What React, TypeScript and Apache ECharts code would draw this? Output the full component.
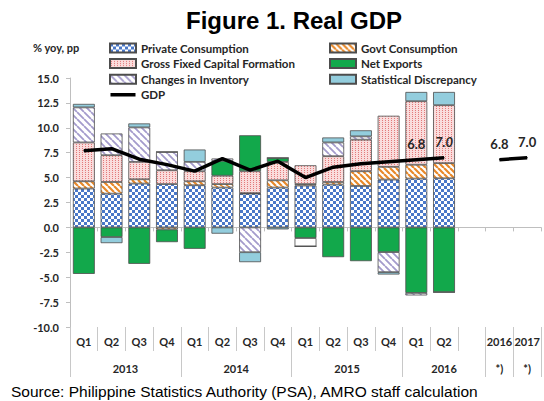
import React, { useEffect, useRef } from 'react';
import * as echarts from 'echarts';

// ---- data ----
const quarterLabels = ['Q1', 'Q2', 'Q3', 'Q4', 'Q1', 'Q2', 'Q3', 'Q4', 'Q1', 'Q2', 'Q3', 'Q4', 'Q1', 'Q2', '', '2016', '2017'];
const yearLabels = ['2013', '2014', '2015', '2016', '*)', '*)'];
const yearSpans = [4, 4, 4, 3, 1, 1];

const privateConsumption = [3.9, 3.39, 4.4, 4.35, 4.23, 4.0, 3.39, 4.0, 4.2, 4.3, 4.16, 4.8, 4.9, 4.93];
const govtConsumption = [0.73, 1.17, 0.43, -0.2, 0.4, 0.35, 0.05, 0.73, 0.15, 0.26, 1.48, 1.28, 1.39, 1.52];
const grossFixedCapital = [3.9, 2.69, 1.75, 1.39, 1.01, 0.84, 2.2, 1.85, 1.89, 2.59, 3.17, 5.13, 6.38, 5.82];
const netExports = [-4.67, -0.97, -3.66, -1.28, -2.15, 1.49, 3.61, 0.4, -1.07, -2.99, -3.39, -2.48, -6.58, -6.51];
const changesInInventory = [3.52, 2.18, 3.46, 1.84, 0.94, 0.24, -2.49, 0, -0.84, 1.38, 0.33, -2.01, -0.25, 0];
const statDiscrepancy = [0.35, -0.61, 0.4, 0, 1.24, -0.63, -1.0, -0.2, 0, 0.5, 0.61, -0.24, 0.93, 1.33];
const gdp: (number | null)[] = [7.7, 7.9, 6.85, 6.3, 5.65, 6.9, 5.75, 6.65, 5.0, 6.05, 6.4, 6.6, 6.8, 7.0, null, 6.8, 7.0];
const gdpLabelled = [12, 13, 15, 16];
const gdpLabelItalic = [13];
const inventoryPlainIdx = [8];

const FONT = 'Lato, "Open Sans", sans-serif';
const ARIAL = '"Liberation Sans", Arial, sans-serif';
const TXT = '#262626';

function tile(w: number, h: number, draw: (c: CanvasRenderingContext2D) => void) {
  const c = document.createElement('canvas');
  c.width = w;
  c.height = h;
  const ctx = c.getContext('2d')!;
  draw(ctx);
  return { image: c, imageWidth: w, imageHeight: h, repeat: 'repeat' } as any;
}

function stripes(color: string, size: number, lw: number) {
  return tile(size, size, (ctx) => {
    ctx.fillStyle = '#ffffff';
    ctx.fillRect(0, 0, size, size);
    ctx.strokeStyle = color;
    ctx.lineWidth = lw;
    ctx.beginPath();
    for (const k of [-size, 0, size]) {
      ctx.moveTo(k, 0);
      ctx.lineTo(k + size, size);
    }
    ctx.stroke();
  });
}

function pad(arr: number[], n: number) {
  const out: any[] = arr.slice();
  while (out.length < n) out.push('-');
  return out;
}

export default function App() {
  const ref = useRef<HTMLDivElement>(null);
  useEffect(() => {
    const chart = echarts.init(ref.current!, null, { renderer: 'svg' });
    const n = quarterLabels.length;

    const checker = tile(6, 6, (ctx) => {
      ctx.fillStyle = '#ffffff';
      ctx.fillRect(0, 0, 6, 6);
      ctx.fillStyle = '#4a78c8';
      ctx.fillRect(0, 0, 3, 3);
      ctx.fillRect(3, 3, 3, 3);
    });
    const dotted = tile(3, 2, (ctx) => {
      ctx.fillStyle = '#fadcdc';
      ctx.fillRect(0, 0, 3, 2);
      ctx.fillStyle = '#e27a7a';
      ctx.fillRect(1, 0, 1, 1);
    });
    const orange = stripes('#e8892b', 6, 2.2);
    const lavender = stripes('#a49bcc', 7, 1.8);

    const yearStarts: number[] = [];
    let acc = 0;
    yearSpans.forEach((s) => {
      yearStarts.push(acc);
      acc += s;
    });
    const yearCenters = yearStarts.map((s, i) => s + yearSpans[i] / 2);

    const border = { borderColor: '#4d4d4d', borderWidth: 0.8 };
    const barBase = {
      type: 'bar',
      stack: 'gdp',
      barCategoryGap: '21%',
      xAxisIndex: 0,
      yAxisIndex: 0,
    };
    const legendText = { fontFamily: FONT, fontWeight: 'bold', fontSize: 11.5, color: TXT, lineHeight: 12 };

    const option: any = {
      animation: false,
      title: {
        text: 'Figure 1. Real GDP',
        left: 186,
        top: 8,
        padding: 0,
        textStyle: { fontFamily: ARIAL, fontWeight: 'bold', fontSize: 24, color: '#000' },
      },
      legend: [
        {
          orient: 'vertical',
          left: 109,
          top: 42,
          padding: 0,
          itemWidth: 26,
          itemHeight: 9,
          itemGap: 3.6,
          icon: 'rect',
          textStyle: legendText,
          data: [
            'Private Consumption',
            'Gross Fixed Capital Formation',
            'Changes in Inventory',
            { name: 'GDP', icon: 'path://M0,0H25V0.01H0Z M0,2.8H25V6.2H0Z M0,8.99H25V9H0Z' },
          ],
        },
        {
          orient: 'vertical',
          left: 329,
          top: 42,
          padding: 0,
          itemWidth: 26,
          itemHeight: 9,
          itemGap: 3.6,
          icon: 'rect',
          textStyle: legendText,
          data: ['Govt Consumption', 'Net Exports', 'Statistical Discrepancy'],
        },
      ],
      grid: { left: 70, right: -3, top: 78, bottom: 74, containLabel: false },
      xAxis: [
        {
          type: 'category',
          data: quarterLabels,
          position: 'bottom',
          axisLine: { onZero: true, lineStyle: { color: '#bfbfbf', width: 1 } },
          axisTick: { show: true, interval: 0, length: 4, lineStyle: { color: '#bfbfbf' } },
          axisLabel: { show: false },
          splitLine: { show: false },
        },
        {
          type: 'category',
          data: quarterLabels,
          position: 'bottom',
          axisLine: { show: false, onZero: false },
          axisTick: { show: true, interval: 0, length: 24, lineStyle: { color: '#c8c8c8' } },
          axisLabel: {
            show: true,
            interval: 0,
            margin: 9,
            fontFamily: FONT,
            fontWeight: 'bold',
            fontSize: 11,
            color: TXT,
          },
          splitLine: { show: false },
        },
        {
          type: 'category',
          data: quarterLabels,
          position: 'bottom',
          axisLine: { show: false, onZero: false },
          axisTick: {
            show: true,
            interval: (idx: number) => yearStarts.includes(idx),
            length: 50,
            lineStyle: { color: '#c8c8c8' },
          },
          axisLabel: { show: false },
          splitLine: { show: false },
        },
        {
          type: 'value',
          min: 0,
          max: n,
          interval: 0.5,
          position: 'bottom',
          offset: 28,
          axisLine: { show: false, onZero: false },
          axisTick: { show: false },
          splitLine: { show: false },
          axisLabel: {
            show: true,
            margin: 8,
            fontFamily: FONT,
            fontWeight: 'bold',
            fontSize: 11,
            color: TXT,
            formatter: (v: number) => {
              const i = yearCenters.findIndex((c) => Math.abs(c - v) < 1e-6);
              return i >= 0 ? yearLabels[i] : '';
            },
          },
        },
      ],
      yAxis: {
        type: 'value',
        min: -10,
        max: 15,
        interval: 2.5,
        axisLine: { show: true, lineStyle: { color: '#bfbfbf' } },
        axisTick: { show: true, length: 4, lineStyle: { color: '#bfbfbf' } },
        splitLine: { show: false },
        axisLabel: {
          margin: 11,
          fontFamily: FONT,
          fontWeight: 'bold',
          fontSize: 11,
          color: TXT,
          formatter: (v: number) => v.toFixed(1),
        },
      },
      graphic: [
        {
          type: 'text',
          left: 33,
          top: 42,
          style: { text: '% yoy, pp', font: `bold 11px ${FONT}`, fill: TXT },
        },
        {
          type: 'text',
          left: 11,
          top: 383,
          style: {
            text: 'Source: Philippine Statistics Authority (PSA), AMRO staff calculation',
            font: `15.5px ${ARIAL}`,
            fill: '#000',
          },
        },
      ],
      series: [
        { ...barBase, name: 'Private Consumption', data: pad(privateConsumption, n), itemStyle: { color: checker, ...border } },
        { ...barBase, name: 'Govt Consumption', data: pad(govtConsumption, n), itemStyle: { color: orange, ...border } },
        { ...barBase, name: 'Gross Fixed Capital Formation', data: pad(grossFixedCapital, n), itemStyle: { color: dotted, ...border } },
        { ...barBase, name: 'Net Exports', data: pad(netExports, n), itemStyle: { color: '#12a84b', ...border } },
        {
          ...barBase,
          name: 'Changes in Inventory',
          data: pad(changesInInventory, n).map((v, i) =>
            inventoryPlainIdx.includes(i) ? { value: v, itemStyle: { color: '#ffffff' } } : v
          ),
          itemStyle: { color: lavender, ...border },
        },
        { ...barBase, name: 'Statistical Discrepancy', data: pad(statDiscrepancy, n), itemStyle: { color: '#93cddd', ...border } },
        {
          type: 'line',
          name: 'GDP',
          xAxisIndex: 0,
          yAxisIndex: 0,
          symbol: 'circle',
          symbolSize: 1,
          showSymbol: true,
          connectNulls: false,
          z: 5,
          lineStyle: { color: '#000', width: 3.5 },
          itemStyle: { color: '#000' },
          data: gdp.map((v, i) =>
            v === null
              ? '-'
              : {
                  value: v,
                  label: {
                    show: gdpLabelled.includes(i),
                    position: 'top',
                    distance: 9,
                    formatter: (p: any) => Number(p.value).toFixed(1),
                    fontFamily: FONT,
                    fontWeight: 'bold',
                    fontStyle: gdpLabelItalic.includes(i) ? 'italic' : 'normal',
                    fontSize: 13,
                    color: TXT,
                  },
                }
          ),
        },
      ],
    };
    chart.setOption(option);
    return () => chart.dispose();
  }, []);
  return <div ref={ref} style={{ position: 'absolute', left: 0, top: 0, width: 544, height: 401 }} />;
}
